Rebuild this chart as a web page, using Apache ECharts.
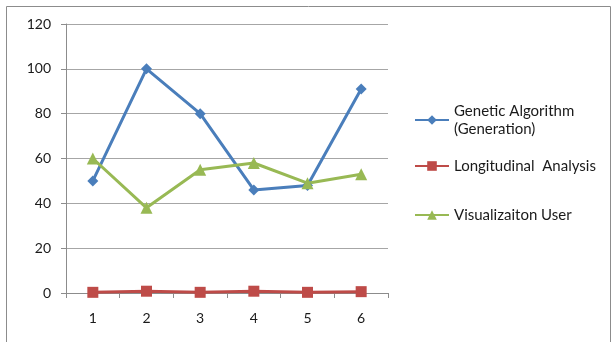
<!DOCTYPE html>
<html><head><meta charset="utf-8">
<script src="https://cdn.jsdelivr.net/npm/echarts@6/dist/echarts.min.js"></script>
<style>html,body{margin:0;padding:0;background:#fff}#c{width:612px;height:342px}</style>
</head><body><div id="c"></div>
<script>
var categories = ['1','2','3','4','5','6'];
var seriesNames = ['Genetic Algorithm (Generation)','Longitudinal  Analysis','Visualizaiton User'];
var geneticValues = [50,100,80,46,48,91];
var longitudinalValues = [0.3,0.8,0.3,0.8,0.3,0.6];
var visualValues = [60,38,55,58,49,53];
var yTicks = [0,20,40,60,80,100,120];

var FONT = 'Lato, "Open Sans", sans-serif';
var chart = echarts.init(document.getElementById('c'), null, {renderer:'canvas'});
function legendFor(i, top) {
  var base = {
    show: true, orient: 'vertical', left: 414, top: top, padding: 0,
    data: [seriesNames[i]], itemWidth: 34, itemHeight: 12, itemGap: 0,
    textStyle: {fontFamily: FONT, fontSize: 15, color: '#1a1a1a', lineHeight: 18}
  };
  if (i === 0) {
    base.formatter = function(){ return 'Genetic Algorithm\n(Generation)'; };
    base.textStyle.padding = [18,0,0,0];
  }
  return base;
}
chart.setOption({
  animation: false,
  graphic: [{type:'rect', shape:{x:6.5,y:6.5,width:604,height:345}, style:{fill:'none', stroke:'#8c8c8c', lineWidth:1}, silent:true, z:-1}],
  grid: {left: 66, right: 224, top: 24, bottom: 49},
  legend: [legendFor(0, 93), legendFor(1, 157), legendFor(2, 206)],
  xAxis: {
    type: 'category', data: categories, boundaryGap: true,
    axisLine: {lineStyle: {color: '#8c8c8c'}},
    axisTick: {show: true, length: 5, lineStyle: {color: '#8c8c8c'}},
    axisLabel: {fontFamily: FONT, fontSize: 14, color: '#1a1a1a', margin: 18}
  },
  yAxis: {
    type: 'value', min: 0, max: 120, interval: 20,
    axisLine: {show: true, lineStyle: {color: '#8c8c8c'}},
    axisTick: {show: true, length: 5, lineStyle: {color: '#8c8c8c'}},
    axisLabel: {fontFamily: FONT, fontSize: 14, color: '#1a1a1a', margin: 15,
      formatter: function(v){ return yTicks.indexOf(v) >= 0 ? String(v) : ''; }},
    splitLine: {lineStyle: {color: '#a6a6a6'}}
  },
  series: [
    {name: seriesNames[0], type: 'line', data: geneticValues, symbol: 'diamond', symbolSize: 11,
     lineStyle: {width: 3, color: '#4A7EBB'}, itemStyle: {color: '#4A7EBB'}},
    {name: seriesNames[1], type: 'line', data: longitudinalValues, symbol: 'rect', symbolSize: 11,
     lineStyle: {width: 3, color: '#BE4B48'}, itemStyle: {color: '#BE4B48'}},
    {name: seriesNames[2], type: 'line', data: visualValues, symbol: 'triangle', symbolSize: 12,
     lineStyle: {width: 3, color: '#98B954'}, itemStyle: {color: '#98B954'}}
  ]
});
</script></body></html>
